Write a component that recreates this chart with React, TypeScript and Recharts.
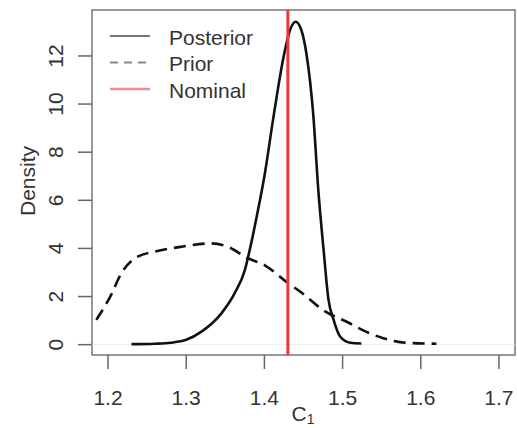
import React from "react";
import { LineChart, Line, XAxis, YAxis, ReferenceLine, ReferenceArea, Label } from "recharts";

const posteriorX = [1.23, 1.26, 1.28, 1.30, 1.32, 1.345, 1.362, 1.375, 1.383, 1.39, 1.40, 1.412, 1.425, 1.433, 1.44, 1.447, 1.454, 1.4625, 1.469, 1.4757, 1.482, 1.4885, 1.497, 1.51, 1.524];
const posteriorY = [0.02, 0.04, 0.08, 0.2, 0.55, 1.3, 2.14, 3.1, 4.2, 5.3, 7.0, 9.55, 12.04, 13.1, 13.42, 13.1, 12.04, 9.55, 6.4, 3.94, 1.86, 1.03, 0.33, 0.08, 0.05];

const priorX = [1.185, 1.204, 1.217, 1.238, 1.26, 1.294, 1.332, 1.353, 1.379, 1.40, 1.43, 1.446, 1.475, 1.509, 1.53, 1.552, 1.581, 1.62];
const priorY = [1.03, 2.07, 2.97, 3.66, 3.87, 4.07, 4.21, 4.07, 3.59, 3.31, 2.56, 2.2, 1.44, 0.89, 0.54, 0.27, 0.08, 0.04];

const nominal = 1.43;
const xTicks = [1.2, 1.3, 1.4, 1.5, 1.6, 1.7];
const yTicks = [0, 2, 4, 6, 8, 10, 12];
const legendLabels = ["Posterior", "Prior", "Nominal"];

const posteriorData = posteriorX.map((x, i) => ({ x, y: posteriorY[i] }));
const priorData = priorX.map((x, i) => ({ x, y: priorY[i] }));

const FONT = "'Liberation Sans', Arial, Helvetica, sans-serif";
const FS = 21;

const XTick = (props: any) => {
  const { x, payload } = props;
  return (
    <text x={x} y={405} textAnchor="middle" fontSize={FS} fill="#333" fontFamily={FONT}>
      {Number(payload.value).toFixed(1)}
    </text>
  );
};

const YTick = (props: any) => {
  const { y, payload } = props;
  return (
    <text x={63} y={y} transform={`rotate(-90, 63, ${y})`} textAnchor="middle" fontSize={FS} fill="#333" fontFamily={FONT}>
      {payload.value}
    </text>
  );
};

export default function App() {
  return (
    <div style={{ position: "absolute", left: 0, top: 0, width: 517, height: 428, background: "#fff" }}>
      <LineChart width={517} height={428} margin={{ top: 10, right: 2, bottom: 23, left: 42 }}>
        <XAxis
          type="number"
          dataKey="x"
          domain={[1.1795, 1.7205]}
          ticks={xTicks}
          allowDataOverflow
          height={50}
          axisLine={false}
          tickSize={14}
          tickLine={{ stroke: "#666", strokeWidth: 1.5 }}
          tick={<XTick />}
          interval={0}
        >
          <Label
            content={() => (
              <text x={303} y={421} textAnchor="middle" fontSize={FS} fill="#333" fontFamily={FONT}>
                C<tspan fontSize={14} dy={3}>1</tspan>
              </text>
            )}
          />
        </XAxis>
        <YAxis
          type="number"
          domain={[-0.43, 13.91]}
          ticks={yTicks}
          allowDataOverflow
          width={50}
          axisLine={false}
          tickSize={14}
          tickLine={{ stroke: "#666", strokeWidth: 1.5 }}
          tick={<YTick />}
          interval={0}
        >
          <Label
            content={() => (
              <text x={35} y={181} transform="rotate(-90, 35, 181)" textAnchor="middle" fontSize={FS} fill="#333" fontFamily={FONT}>
                Density
              </text>
            )}
          />
        </YAxis>
        <ReferenceLine y={0} stroke="#ececec" strokeWidth={1} />
        <ReferenceArea x1={1.1795} x2={1.7205} y1={-0.43} y2={13.91} fill="none" stroke="#777" strokeWidth={1.5} ifOverflow="visible" />
        <Line
          data={priorData}
          dataKey="y"
          type="monotone"
          stroke="#111"
          strokeWidth={2.6}
          strokeDasharray="12 7"
          dot={false}
          isAnimationActive={false}
        />
        <Line
          data={posteriorData}
          dataKey="y"
          type="monotone"
          stroke="#111"
          strokeWidth={2.6}
          dot={false}
          isAnimationActive={false}
        />
        <ReferenceLine x={nominal} stroke="#ec3a3a" strokeWidth={3} />
      </LineChart>
      <svg width={517} height={428} style={{ position: "absolute", left: 0, top: 0, pointerEvents: "none" }}>
        <line x1={110} x2={150} y1={36} y2={36} stroke="#777" strokeWidth={2} />
        <line x1={110} x2={150} y1={62.5} y2={62.5} stroke="#888" strokeWidth={2} strokeDasharray="8 6" />
        <line x1={110} x2={150} y1={89} y2={89} stroke="#f28b8b" strokeWidth={2.5} />
        {legendLabels.map((t, i) => (
          <text key={t} x={169} y={44.5 + i * 26.5} fontSize={FS} fill="#333" fontFamily={FONT}>
            {t}
          </text>
        ))}
      </svg>
    </div>
  );
}
